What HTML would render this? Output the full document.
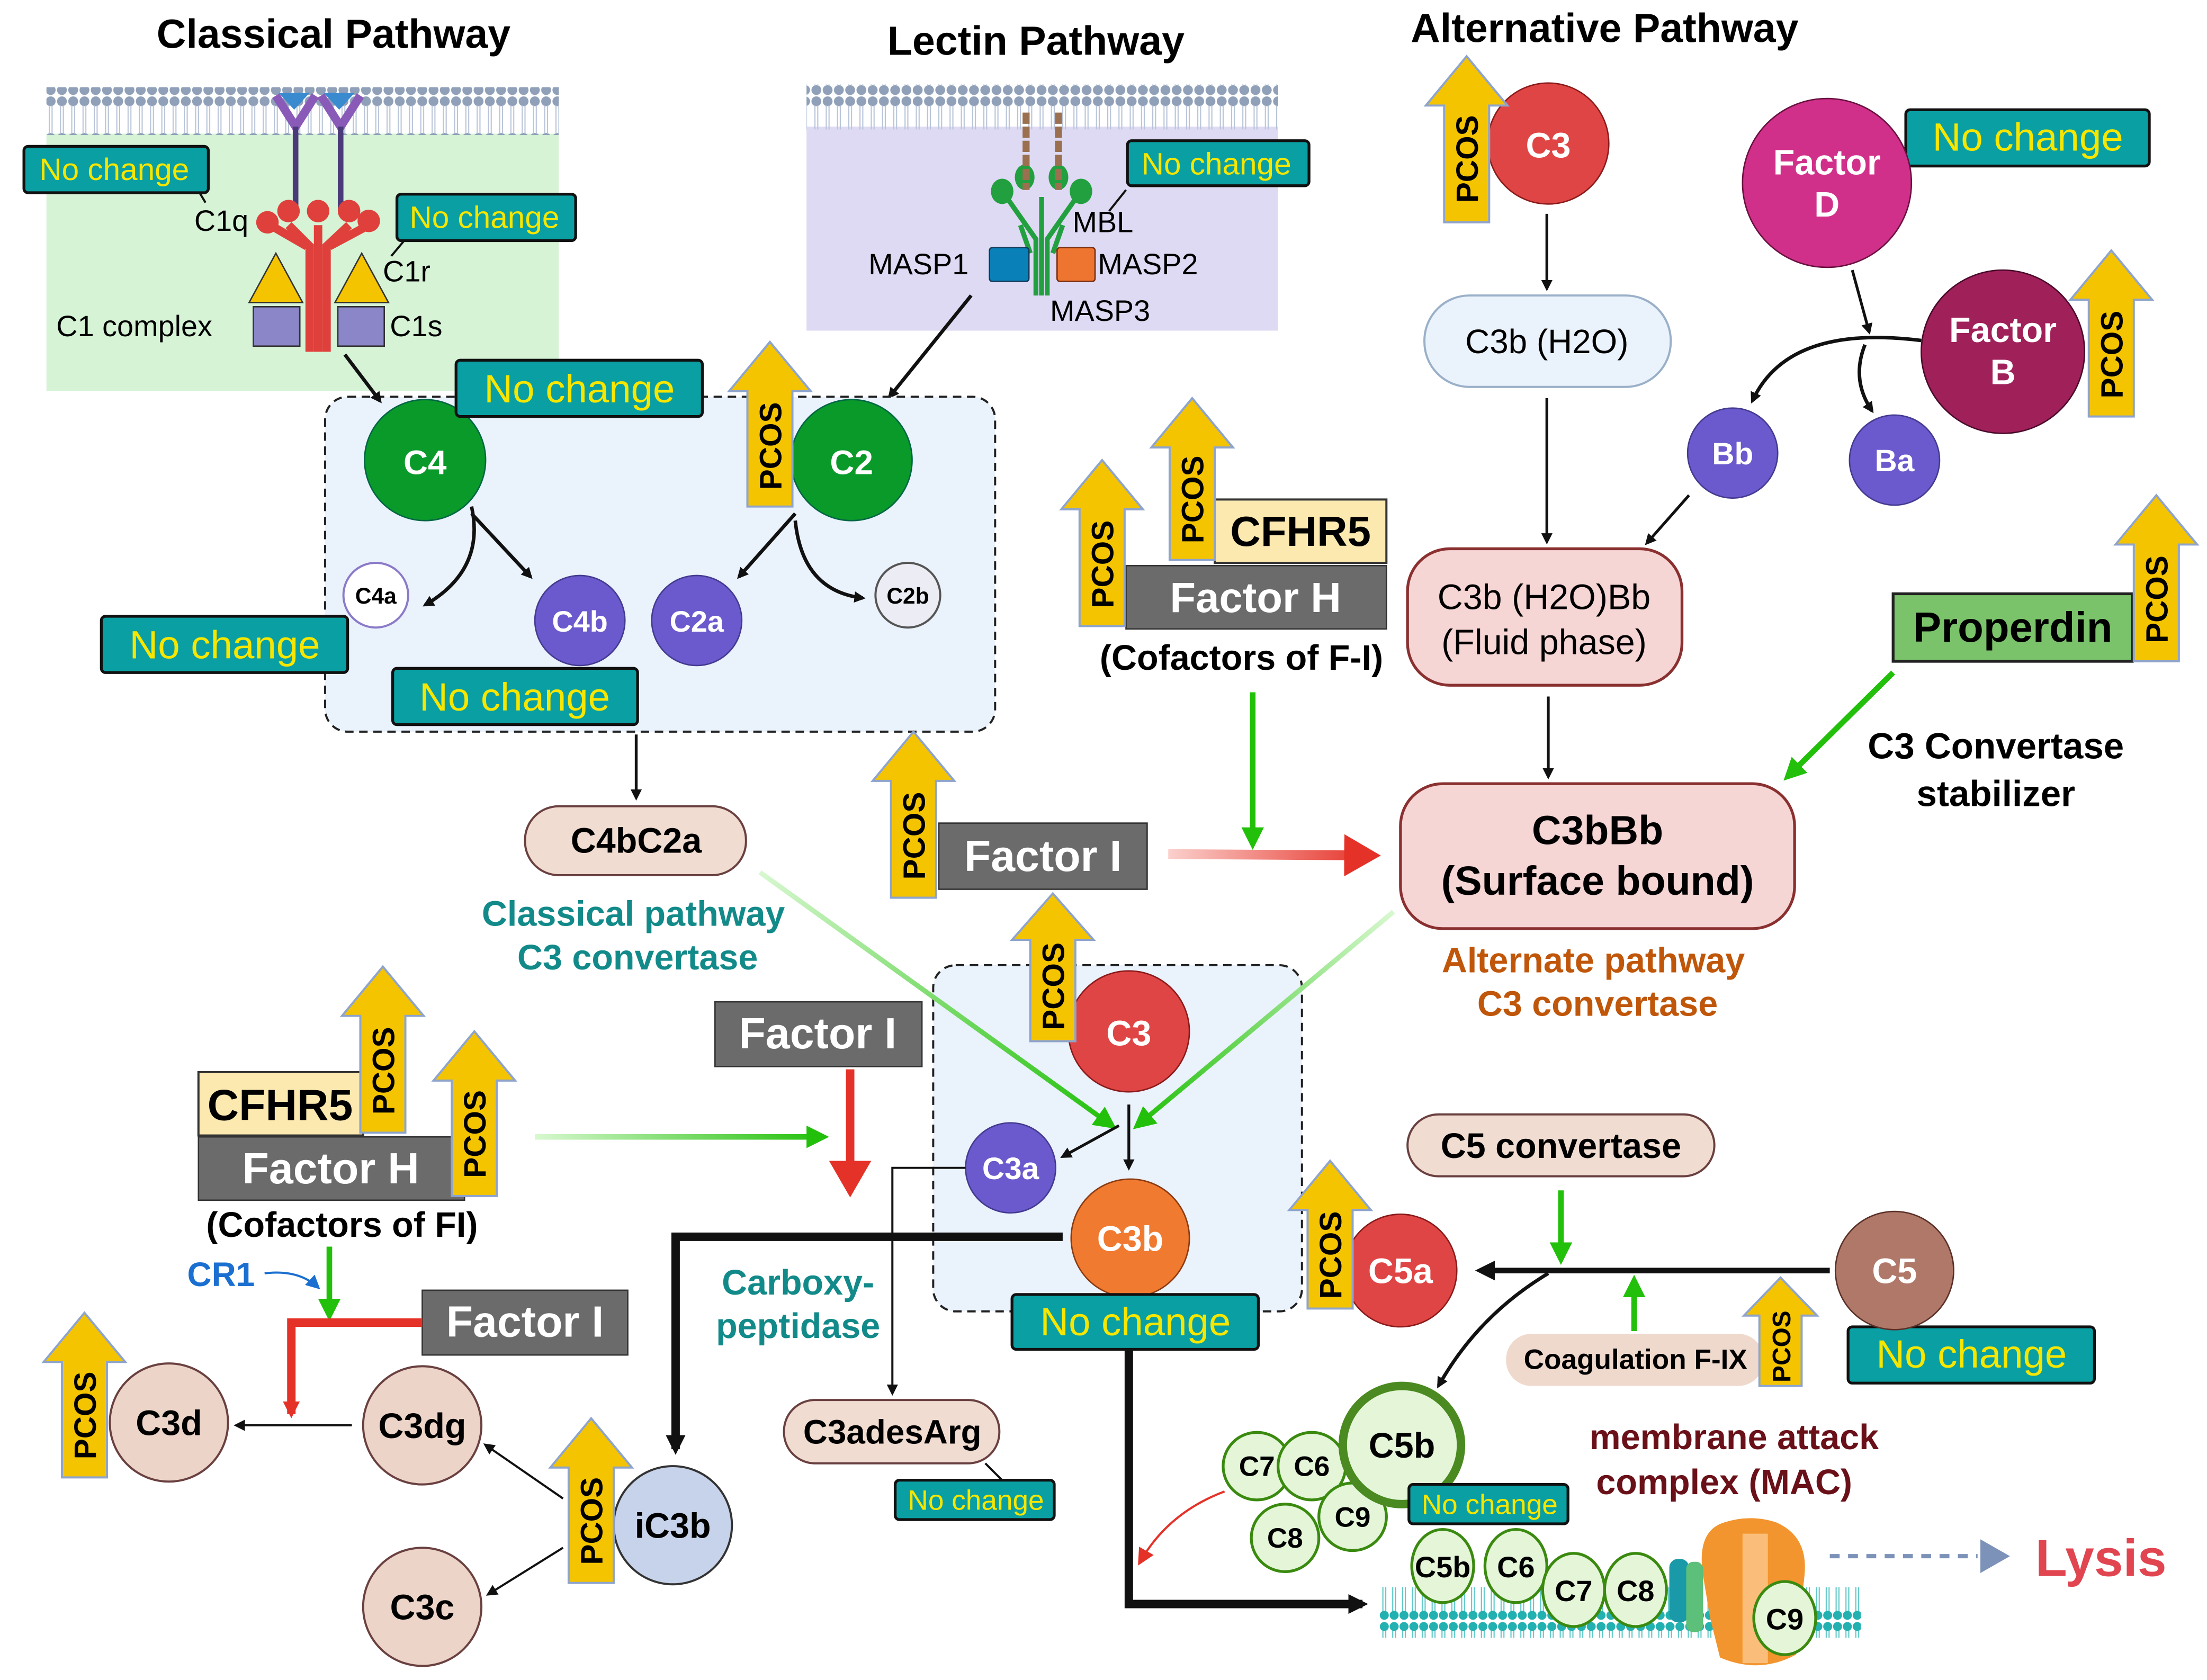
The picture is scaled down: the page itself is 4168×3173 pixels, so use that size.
<!DOCTYPE html>
<html><head><meta charset="utf-8"><style>
html,body{margin:0;padding:0;background:#fff;}
svg{display:block;}
text{font-family:"Liberation Sans",sans-serif;}
.b{font-weight:bold;}
</style></head><body>
<svg width="4168" height="3173" viewBox="0 0 1568 1194" preserveAspectRatio="none" xmlns="http://www.w3.org/2000/svg">
<defs>
<marker id="ab" markerWidth="8" markerHeight="8" refX="6" refY="4" orient="auto" markerUnits="userSpaceOnUse" viewBox="0 0 8 8"><path d="M0,0 L8,4 L0,8 Z" fill="#111"/></marker>
<marker id="abk" markerWidth="14" markerHeight="14" refX="10" refY="7" orient="auto" markerUnits="userSpaceOnUse"><path d="M0,0 L14,7 L0,14 Z" fill="#111"/></marker>
<marker id="ag" markerWidth="16" markerHeight="16" refX="12" refY="8" orient="auto" markerUnits="userSpaceOnUse"><path d="M0,0 L16,8 L0,16 Z" fill="#22c00a"/></marker>
<marker id="ar" markerWidth="26" markerHeight="30" refX="20" refY="15" orient="auto" markerUnits="userSpaceOnUse"><path d="M0,0 L26,15 L0,30 Z" fill="#e53228"/></marker>
<marker id="ar2" markerWidth="12" markerHeight="12" refX="9" refY="6" orient="auto" markerUnits="userSpaceOnUse"><path d="M0,0 L12,6 L0,12 Z" fill="#e53228"/></marker>
<marker id="abl" markerWidth="10" markerHeight="10" refX="8" refY="5" orient="auto" markerUnits="userSpaceOnUse"><path d="M0,0 L10,5 L0,10 Z" fill="#1a6fd0"/></marker>
<linearGradient id="gg1" gradientUnits="userSpaceOnUse" x1="540" y1="620" x2="790" y2="800"><stop offset="0" stop-color="#d8f8d0"/><stop offset="1" stop-color="#22c00a"/></linearGradient>
<linearGradient id="gg2" gradientUnits="userSpaceOnUse" x1="990" y1="648" x2="808" y2="800"><stop offset="0" stop-color="#d8f8d0"/><stop offset="1" stop-color="#22c00a"/></linearGradient>
<linearGradient id="gg3" gradientUnits="userSpaceOnUse" x1="380" y1="0" x2="585" y2="0"><stop offset="0" stop-color="#d8f8d0"/><stop offset="1" stop-color="#22c00a"/></linearGradient>
<linearGradient id="rg" gradientUnits="userSpaceOnUse" x1="830" y1="0" x2="975" y2="0"><stop offset="0" stop-color="#fbd0cc"/><stop offset="1" stop-color="#e53228"/></linearGradient>
<pattern id="mem" width="8" height="34" patternUnits="userSpaceOnUse"><circle cx="4" cy="4" r="3.5" fill="#8fa0b8"/><circle cx="4" cy="30" r="3.5" fill="#8fa0b8"/><line x1="3" y1="7" x2="3" y2="27" stroke="#b8c4d8" stroke-width="0.8"/><line x1="5" y1="7" x2="5" y2="27" stroke="#b8c4d8" stroke-width="0.8"/></pattern>
<pattern id="mem2" width="7" height="36" patternUnits="userSpaceOnUse"><circle cx="3.5" cy="4" r="3.2" fill="#22b0b0"/><circle cx="3.5" cy="32" r="3.2" fill="#22b0b0"/><line x1="2.5" y1="7" x2="2.5" y2="29" stroke="#5cc8c8" stroke-width="0.8"/><line x1="4.5" y1="7" x2="4.5" y2="29" stroke="#5cc8c8" stroke-width="0.8"/></pattern>
</defs>
<rect width="1568" height="1194" fill="#fff"/>

<text x="237" y="34" font-size="29" class="b" text-anchor="middle">Classical Pathway</text>
<text x="736" y="39" font-size="29" class="b" text-anchor="middle">Lectin Pathway</text>
<text x="1140" y="30" font-size="29" class="b" text-anchor="middle">Alternative  Pathway</text>

<!-- Classical panel -->
<rect x="33" y="95" width="364" height="183" fill="#d6f3d6"/>
<rect x="33" y="62" width="364" height="34" fill="url(#mem)"/>
<path d="M196,68 L210,90 L224,68 M228,68 L242,90 L256,68" stroke="#8a5ab8" stroke-width="6" fill="none"/>
<path d="M198,66 h22 l-11,12z M230,66 h22 l-11,12z" fill="#3a8ad0"/>
<line x1="210" y1="90" x2="210" y2="150" stroke="#4a3a7a" stroke-width="4"/>
<line x1="242" y1="90" x2="242" y2="150" stroke="#4a3a7a" stroke-width="4"/>
<g stroke="#e0403c" stroke-width="6" fill="none">
<path d="M220,250 L220,175 L205,160"/><path d="M226,250 L226,160"/><path d="M232,250 L232,175 L248,160"/>
<path d="M218,175 L192,160"/><path d="M234,175 L262,160"/>
</g>
<g fill="#e0403c"><circle cx="190" cy="158" r="8"/><circle cx="205" cy="150" r="8"/><circle cx="226" cy="150" r="8"/><circle cx="248" cy="150" r="8"/><circle cx="262" cy="157" r="8"/></g>
<polygon points="196,180 215,215 177,215" fill="#f5c400" stroke="#333"/>
<polygon points="257,180 276,215 238,215" fill="#f5c400" stroke="#333"/>
<rect x="180" y="218" width="33" height="28" fill="#8a86c8" stroke="#333"/>
<rect x="240" y="218" width="33" height="28" fill="#8a86c8" stroke="#333"/>
<text x="138" y="164" font-size="21">C1q</text>
<text x="272" y="200" font-size="21">C1r</text>
<text x="277" y="239" font-size="21">C1s</text>
<text x="40" y="239" font-size="21">C1 complex</text>
<line x1="140" y1="134" x2="146" y2="144" stroke="#111" stroke-width="1.5"/>
<line x1="288" y1="170" x2="278" y2="182" stroke="#111" stroke-width="1.5"/>

<!-- Lectin panel -->
<rect x="573" y="90" width="335" height="145" fill="#dedaf3"/>
<rect x="573" y="60" width="335" height="32" fill="url(#mem)"/>
<g stroke="#22a040" stroke-width="3.5" fill="none">
<path d="M736,210 L736,170 L715,140"/><path d="M740,210 L740,140"/><path d="M744,210 L744,170 L765,140"/><path d="M732,180 L725,160"/><path d="M748,180 L755,160"/>
</g>
<g fill="#22a040"><ellipse cx="712" cy="136" rx="8" ry="9"/><ellipse cx="728" cy="126" rx="7" ry="9"/><ellipse cx="752" cy="126" rx="7" ry="9"/><ellipse cx="768" cy="136" rx="8" ry="9"/></g>
<line x1="729" y1="80" x2="729" y2="135" stroke="#9a7050" stroke-width="5" stroke-dasharray="8,2"/>
<line x1="752" y1="80" x2="752" y2="135" stroke="#9a7050" stroke-width="5" stroke-dasharray="8,2"/>
<rect x="703" y="176" width="28" height="24" rx="2" fill="#0a80b8" stroke="#143a5a"/>
<rect x="751" y="176" width="27" height="24" rx="2" fill="#ee7530" stroke="#7a3010"/>
<text x="617" y="195" font-size="21">MASP1</text>
<text x="780" y="195" font-size="21">MASP2</text>
<text x="762" y="165" font-size="21">MBL</text>
<text x="746" y="228" font-size="21">MASP3</text>
<line x1="800" y1="135" x2="788" y2="150" stroke="#111" stroke-width="1.5"/>
<line x1="690" y1="210" x2="632" y2="282" stroke="#111" stroke-width="2.5" marker-end="url(#ab)"/>

<!-- Classical dashed box -->
<rect x="231" y="282" width="476" height="238" rx="16" fill="#eaf2fc" stroke="#222" stroke-width="1.5" stroke-dasharray="6,4"/>
<line x1="245" y1="252" x2="270" y2="285" stroke="#111" stroke-width="2.5" marker-end="url(#ab)"/>
<circle cx="302" cy="327" r="43" fill="#0a9a2a" stroke="#064"/>
<text x="302" y="337" font-size="24" class="b" fill="#fff" text-anchor="middle">C4</text>
<circle cx="605" cy="327" r="43" fill="#0a9a2a" stroke="#064"/>
<text x="605" y="337" font-size="24" class="b" fill="#fff" text-anchor="middle">C2</text>
<path d="M335,360 Q345,405 302,430" stroke="#111" stroke-width="2.5" fill="none" marker-end="url(#ab)"/>
<line x1="335" y1="365" x2="377" y2="410" stroke="#111" stroke-width="2.5" marker-end="url(#ab)"/>
<line x1="565" y1="365" x2="525" y2="410" stroke="#111" stroke-width="2.5" marker-end="url(#ab)"/>
<path d="M565,370 Q570,420 613,425" stroke="#111" stroke-width="2.5" fill="none" marker-end="url(#ab)"/>
<circle cx="267" cy="423" r="23" fill="#fff" stroke="#8a7ac8" stroke-width="1.5"/>
<text x="267" y="429" font-size="16" class="b" text-anchor="middle">C4a</text>
<circle cx="412" cy="441" r="32" fill="#6a5acd" stroke="#443a90"/>
<text x="412" y="449" font-size="21" class="b" fill="#fff" text-anchor="middle">C4b</text>
<circle cx="495" cy="441" r="32" fill="#6a5acd" stroke="#443a90"/>
<text x="495" y="449" font-size="21" class="b" fill="#fff" text-anchor="middle">C2a</text>
<circle cx="645" cy="423" r="23" fill="#ecedf4" stroke="#555" stroke-width="1.5"/>
<text x="645" y="429" font-size="16" class="b" text-anchor="middle">C2b</text>

<!-- No change labels -->
<g stroke="#111" stroke-width="2" fill="#0aa0a3">
<rect x="17" y="104" width="131" height="33" rx="3"/>
<rect x="282" y="138" width="127" height="33" rx="3"/>
<rect x="801" y="100" width="129" height="32" rx="3"/>
<rect x="1354" y="78" width="173" height="40" rx="3"/>
<rect x="324" y="256" width="175" height="40" rx="3"/>
<rect x="72" y="438" width="175" height="40" rx="3"/>
<rect x="279" y="475" width="174" height="40" rx="3"/>
<rect x="1313" y="943" width="175" height="40" rx="3"/>
<rect x="636" y="1052" width="113" height="28" rx="3"/>
</g>
<g fill="#f7e600" font-size="22">
<text x="28" y="128">No change</text>
<text x="291" y="162">No change</text>
<text x="811" y="124">No change</text>
<text x="1373" y="107" font-size="28">No change</text>
<text x="344" y="286" font-size="28">No change</text>
<text x="92" y="468" font-size="28">No change</text>
<text x="298" y="505" font-size="28">No change</text>
<text x="1333" y="972" font-size="28">No change</text>
<text x="645" y="1073" font-size="20">No change</text>
</g>

<!-- Alternative pathway -->
<circle cx="1100" cy="102" r="43" fill="#e04545" stroke="#8a1a1a"/>
<text x="1100" y="112" font-size="25" class="b" fill="#fff" text-anchor="middle">C3</text>
<line x1="1099" y1="152" x2="1099" y2="205" stroke="#111" stroke-width="2" marker-end="url(#ab)"/>
<rect x="1012" y="210" width="175" height="65" rx="32" fill="#eaf2fc" stroke="#9ab0c8" stroke-width="1.5"/>
<text x="1099" y="251" font-size="24" text-anchor="middle">C3b (H2O)</text>
<line x1="1099" y1="283" x2="1099" y2="385" stroke="#111" stroke-width="2" marker-end="url(#ab)"/>
<rect x="1000" y="390" width="195" height="97" rx="30" fill="#f6d5d5" stroke="#8a3030" stroke-width="2"/>
<text x="1097" y="433" font-size="25" text-anchor="middle">C3b (H2O)Bb</text>
<text x="1097" y="465" font-size="25" text-anchor="middle">(Fluid phase)</text>
<line x1="1100" y1="495" x2="1100" y2="552" stroke="#111" stroke-width="2" marker-end="url(#ab)"/>
<rect x="995" y="557" width="280" height="103" rx="30" fill="#f6d5d5" stroke="#8a3030" stroke-width="2"/>
<text x="1135" y="600" font-size="29" class="b" text-anchor="middle">C3bBb</text>
<text x="1135" y="636" font-size="29" class="b" text-anchor="middle">(Surface bound)</text>
<text x="1132" y="691" font-size="25" class="b" fill="#c0560a" text-anchor="middle">Alternate pathway</text>
<text x="1135" y="722" font-size="25" class="b" fill="#c0560a" text-anchor="middle">C3 convertase</text>

<circle cx="1298" cy="130" r="60" fill="#d0308a" stroke="#6a1040"/>
<text x="1298" y="124" font-size="25" class="b" fill="#fff" text-anchor="middle">Factor</text>
<text x="1298" y="154" font-size="25" class="b" fill="#fff" text-anchor="middle">D</text>
<line x1="1316" y1="192" x2="1328" y2="236" stroke="#111" stroke-width="2" marker-end="url(#ab)"/>
<circle cx="1423" cy="250" r="58" fill="#a0205a" stroke="#4a0a2a"/>
<text x="1423" y="243" font-size="25" class="b" fill="#fff" text-anchor="middle">Factor</text>
<text x="1423" y="273" font-size="25" class="b" fill="#fff" text-anchor="middle">B</text>
<path d="M1365,242 Q1270,230 1245,285" stroke="#111" stroke-width="2.5" fill="none" marker-end="url(#ab)"/>
<path d="M1325,245 Q1315,270 1330,292" stroke="#111" stroke-width="2.5" fill="none" marker-end="url(#ab)"/>
<circle cx="1231" cy="322" r="32" fill="#6a5acd" stroke="#443a90"/>
<text x="1231" y="330" font-size="22" class="b" fill="#fff" text-anchor="middle">Bb</text>
<circle cx="1346" cy="327" r="32" fill="#6a5acd" stroke="#443a90"/>
<text x="1346" y="335" font-size="22" class="b" fill="#fff" text-anchor="middle">Ba</text>
<line x1="1200" y1="352" x2="1170" y2="386" stroke="#111" stroke-width="2" marker-end="url(#ab)"/>

<rect x="1345" y="422" width="170" height="48" fill="#7ac36a" stroke="#222" stroke-width="2"/>
<text x="1430" y="456" font-size="30" class="b" text-anchor="middle">Properdin</text>
<line x1="1345" y1="478" x2="1270" y2="552" stroke="#22c00a" stroke-width="4" marker-end="url(#ag)"/>
<text x="1418" y="539" font-size="26" class="b" text-anchor="middle">C3 Convertase</text>
<text x="1418" y="573" font-size="26" class="b" text-anchor="middle">stabilizer</text>

<!-- Factor H top -->
<rect x="863" y="355" width="122" height="45" fill="#fbe9b0" stroke="#333" stroke-width="1.5"/>
<text x="924" y="388" font-size="30" class="b" text-anchor="middle">CFHR5</text>
<rect x="800" y="402" width="185" height="45" fill="#6b6b6b" stroke="#333"/>
<text x="892" y="435" font-size="30" class="b" fill="#fff" text-anchor="middle">Factor H</text>
<text x="882" y="476" font-size="25" class="b" text-anchor="middle">(Cofactors of F-I)</text>
<line x1="890" y1="492" x2="890" y2="600" stroke="#22c00a" stroke-width="4" marker-end="url(#ag)"/>

<!-- Factor I mid -->
<rect x="667" y="585" width="148" height="47" fill="#6b6b6b" stroke="#333"/>
<text x="741" y="619" font-size="31" class="b" fill="#fff" text-anchor="middle">Factor I</text>
<line x1="830" y1="607" x2="975" y2="608" stroke="url(#rg)" stroke-width="7" marker-end="url(#ar)"/>

<!-- C4bC2a -->
<line x1="452" y1="522" x2="452" y2="567" stroke="#111" stroke-width="2" marker-end="url(#ab)"/>
<rect x="373" y="573" width="157" height="49" rx="24" fill="#f0dcd0" stroke="#6a4040" stroke-width="1.5"/>
<text x="452" y="606" font-size="25" class="b" text-anchor="middle">C4bC2a</text>
<text x="450" y="658" font-size="25" class="b" fill="#138a8a" text-anchor="middle">Classical pathway</text>
<text x="453" y="689" font-size="25" class="b" fill="#138a8a" text-anchor="middle">C3 convertase</text>

<!-- Central dashed box -->
<rect x="663" y="686" width="262" height="246" rx="16" fill="#eaf2fc" stroke="#222" stroke-width="1.5" stroke-dasharray="6,4"/>
<line x1="540" y1="620" x2="790" y2="800" stroke="url(#gg1)" stroke-width="3.5" marker-end="url(#ag)"/>
<line x1="990" y1="648" x2="808" y2="800" stroke="url(#gg2)" stroke-width="3.5" marker-end="url(#ag)"/>
<circle cx="802" cy="733" r="43" fill="#e04545" stroke="#8a1a1a"/>
<text x="802" y="743" font-size="25" class="b" fill="#fff" text-anchor="middle">C3</text>
<line x1="802" y1="785" x2="802" y2="830" stroke="#111" stroke-width="2" marker-end="url(#ab)"/>
<line x1="795" y1="800" x2="755" y2="822" stroke="#111" stroke-width="2" marker-end="url(#ab)"/>
<circle cx="718" cy="830" r="32" fill="#6a5acd" stroke="#443a90"/>
<text x="718" y="838" font-size="22" class="b" fill="#fff" text-anchor="middle">C3a</text>
<circle cx="803" cy="880" r="42" fill="#f07a30" stroke="#8a3a10"/>
<text x="803" y="889" font-size="25" class="b" fill="#fff" text-anchor="middle">C3b</text>
<polyline points="686,830 634,830 634,990" stroke="#111" stroke-width="1.5" fill="none" marker-end="url(#ab)"/>
<rect x="719" y="920" width="175" height="39" rx="3" fill="#0aa0a3" stroke="#111" stroke-width="2"/>
<text x="739" y="949" font-size="28" fill="#f7e600">No change</text>

<!-- Factor I center-left -->
<rect x="508" y="712" width="147" height="46" fill="#6b6b6b" stroke="#333"/>
<text x="581" y="745" font-size="31" class="b" fill="#fff" text-anchor="middle">Factor I</text>
<line x1="604" y1="760" x2="604" y2="845" stroke="#e53228" stroke-width="6" marker-end="url(#ar)"/>
<line x1="380" y1="808" x2="585" y2="808" stroke="url(#gg3)" stroke-width="4" marker-end="url(#ag)"/>
<text x="567" y="920" font-size="25" class="b" fill="#138a8a" text-anchor="middle">Carboxy-</text>
<text x="567" y="951" font-size="25" class="b" fill="#138a8a" text-anchor="middle">peptidase</text>

<polyline points="755,879 480,879 480,1030" stroke="#111" stroke-width="6" fill="none" marker-end="url(#abk)"/>
<polyline points="802,960 802,1140 968,1140" stroke="#111" stroke-width="6" fill="none" marker-end="url(#abk)"/>

<rect x="557" y="995" width="153" height="45" rx="22" fill="#f0dcd0" stroke="#6a4040" stroke-width="1.5"/>
<text x="634" y="1026" font-size="24" class="b" text-anchor="middle">C3adesArg</text>
<line x1="700" y1="1040" x2="712" y2="1052" stroke="#111" stroke-width="1.5"/>

<!-- Left FH -->
<rect x="141" y="762" width="117" height="45" fill="#fbe9b0" stroke="#333" stroke-width="1.5"/>
<text x="199" y="796" font-size="31" class="b" text-anchor="middle">CFHR5</text>
<rect x="141" y="808" width="189" height="45" fill="#6b6b6b" stroke="#333"/>
<text x="235" y="841" font-size="31" class="b" fill="#fff" text-anchor="middle">Factor H</text>
<text x="243" y="879" font-size="25" class="b" text-anchor="middle">(Cofactors of FI)</text>
<line x1="234" y1="886" x2="234" y2="935" stroke="#22c00a" stroke-width="4" marker-end="url(#ag)"/>
<text x="133" y="914" font-size="24" class="b" fill="#1a6fd0">CR1</text>
<path d="M188,905 Q212,902 226,915" stroke="#1a6fd0" stroke-width="1.5" fill="none" marker-end="url(#abl)"/>
<rect x="300" y="917" width="146" height="46" fill="#6b6b6b" stroke="#333"/>
<text x="373" y="950" font-size="31" class="b" fill="#fff" text-anchor="middle">Factor I</text>
<polyline points="300,940 207,940 207,1005" stroke="#e53228" stroke-width="6" fill="none" marker-end="url(#ar2)"/>

<circle cx="120" cy="1011" r="42" fill="#ecd5c8" stroke="#6a4040" stroke-width="1.5"/>
<text x="120" y="1020" font-size="25" class="b" text-anchor="middle">C3d</text>
<line x1="250" y1="1013" x2="168" y2="1013" stroke="#111" stroke-width="1.5" marker-end="url(#ab)"/>
<circle cx="300" cy="1013" r="42" fill="#ecd5c8" stroke="#6a4040" stroke-width="1.5"/>
<text x="300" y="1022" font-size="25" class="b" text-anchor="middle">C3dg</text>
<circle cx="300" cy="1142" r="42" fill="#ecd5c8" stroke="#6a4040" stroke-width="1.5"/>
<text x="300" y="1151" font-size="25" class="b" text-anchor="middle">C3c</text>
<circle cx="478" cy="1084" r="42" fill="#c7d3ea" stroke="#333" stroke-width="1.5"/>
<text x="478" y="1093" font-size="25" class="b" text-anchor="middle">iC3b</text>
<line x1="400" y1="1065" x2="345" y2="1027" stroke="#111" stroke-width="1.5" marker-end="url(#ab)"/>
<line x1="400" y1="1100" x2="347" y2="1133" stroke="#111" stroke-width="1.5" marker-end="url(#ab)"/>

<!-- C5 section -->
<rect x="1000" y="792" width="218" height="44" rx="22" fill="#f0dcd0" stroke="#6a4040" stroke-width="1.5"/>
<text x="1109" y="823" font-size="25" class="b" text-anchor="middle">C5 convertase</text>
<line x1="1109" y1="846" x2="1109" y2="895" stroke="#22c00a" stroke-width="4" marker-end="url(#ag)"/>
<line x1="1300" y1="903" x2="1052" y2="903" stroke="#111" stroke-width="4" marker-end="url(#abk)"/>
<line x1="1161" y1="946" x2="1161" y2="910" stroke="#22c00a" stroke-width="4" marker-end="url(#ag)"/>
<path d="M1100,905 Q1050,935 1022,985" stroke="#111" stroke-width="2.5" fill="none" marker-end="url(#ab)"/>
<circle cx="995" cy="903" r="40" fill="#e04545" stroke="#8a1a1a"/>
<text x="995" y="912" font-size="25" class="b" fill="#fff" text-anchor="middle">C5a</text>
<circle cx="1346" cy="903" r="42" fill="#b07868" stroke="#5a3028"/>
<text x="1346" y="912" font-size="25" class="b" fill="#fff" text-anchor="middle">C5</text>
<rect x="1070" y="948" width="183" height="37" rx="18" fill="#efd9cc"/>
<text x="1162" y="973" font-size="20" class="b" text-anchor="middle">Coagulation F-IX</text>

<text x="1232" y="1030" font-size="25" class="b" fill="#6a1018" text-anchor="middle">membrane attack</text>
<text x="1225" y="1062" font-size="25" class="b" fill="#6a1018" text-anchor="middle">complex (MAC)</text>

<path d="M870,1060 Q830,1075 810,1110" stroke="#e53228" stroke-width="1.5" fill="none" marker-end="url(#ar2)"/>
<g fill="#e4f5d8" stroke="#3a8a10" stroke-width="2">
<circle cx="893" cy="1042" r="24"/><circle cx="932" cy="1042" r="24"/><circle cx="913" cy="1093" r="24"/><circle cx="961" cy="1078" r="24"/>
</g>
<circle cx="996" cy="1027" r="42" fill="#e4f5d8" stroke="#4a8a20" stroke-width="6"/>
<g font-size="20" class="b" text-anchor="middle">
<text x="893" y="1049">C7</text><text x="932" y="1049">C6</text><text x="913" y="1100">C8</text><text x="961" y="1085">C9</text>
</g>
<text x="996" y="1036" font-size="25" class="b" text-anchor="middle">C5b</text>
<rect x="1001" y="1055" width="113" height="28" rx="3" fill="#0aa0a3" stroke="#111" stroke-width="2"/>
<text x="1010" y="1076" font-size="20" fill="#f7e600">No change</text>

<!-- membrane bottom -->
<rect x="980" y="1128" width="342" height="36" fill="url(#mem2)"/>
<path d="M1210,1120 Q1205,1088 1225,1082 Q1244,1076 1262,1082 Q1285,1092 1282,1120 L1276,1176 Q1250,1190 1222,1178 L1215,1150 Z" fill="#f2952e"/>
<rect x="1238" y="1090" width="18" height="92" fill="#fbbe7a"/>
<rect x="1186" y="1108" width="14" height="45" rx="6" fill="#1a9aa8"/>
<rect x="1198" y="1110" width="12" height="50" rx="5" fill="#5cbf7a"/>
<g fill="#e4f5d8" stroke="#3a8a10" stroke-width="2">
<ellipse cx="1025" cy="1113" rx="22" ry="26"/><ellipse cx="1077" cy="1113" rx="22" ry="26"/><ellipse cx="1118" cy="1130" rx="22" ry="26"/><ellipse cx="1162" cy="1130" rx="22" ry="26"/><ellipse cx="1268" cy="1150" rx="22" ry="26"/>
</g>
<g font-size="21" class="b" text-anchor="middle">
<text x="1025" y="1121">C5b</text><text x="1077" y="1121">C6</text><text x="1118" y="1138">C7</text><text x="1162" y="1138">C8</text><text x="1268" y="1158">C9</text>
</g>
<line x1="1300" y1="1106" x2="1405" y2="1106" stroke="#7d92b8" stroke-width="3" stroke-dasharray="7,6"/>
<polygon points="1407,1094 1428,1106 1407,1118" fill="#7d92b8"/>
<text x="1446" y="1120" font-size="37" class="b" fill="#e04550">Lysis</text>

<!-- PCOS arrows -->
<g fill="#f5c400" stroke="#8ea4cc" stroke-width="1.5">
<polygon points="1042,40 1071,75 1058,75 1058,158 1026,158 1026,75 1013,75"/>
<polygon points="1500,178 1529,213 1516,213 1516,296 1484,296 1484,213 1471,213"/>
<polygon points="1532,352 1561,387 1548,387 1548,470 1516,470 1516,387 1503,387"/>
<polygon points="547,243 576,278 563,278 563,360 531,360 531,278 518,278"/>
<polygon points="847,283 876,318 863,318 863,398 831,398 831,318 818,318"/>
<polygon points="783,327 812,362 799,362 799,445 767,445 767,362 754,362"/>
<polygon points="649,520 678,555 665,555 665,638 633,638 633,555 620,555"/>
<polygon points="748,635 777,668 764,668 764,740 732,740 732,668 719,668"/>
<polygon points="272,687 301,722 288,722 288,805 256,805 256,722 243,722"/>
<polygon points="337,733 366,768 353,768 353,850 321,850 321,768 308,768"/>
<polygon points="60,933 89,968 76,968 76,1050 44,1050 44,968 31,968"/>
<polygon points="420,1008 449,1043 436,1043 436,1125 404,1125 404,1043 391,1043"/>
<polygon points="945,825 974,860 961,860 961,930 929,930 929,860 916,860"/>
<polygon points="1265,908 1291,935 1280,935 1280,985 1250,985 1250,935 1239,935"/>
</g>
<g font-size="22" class="b" text-anchor="middle">
<text transform="translate(1050,113) rotate(-90)">PCOS</text>
<text transform="translate(1508,252) rotate(-90)">PCOS</text>
<text transform="translate(1540,426) rotate(-90)">PCOS</text>
<text transform="translate(555,317) rotate(-90)">PCOS</text>
<text transform="translate(855,355) rotate(-90)">PCOS</text>
<text transform="translate(791,401) rotate(-90)">PCOS</text>
<text transform="translate(657,594) rotate(-90)">PCOS</text>
<text transform="translate(756,701) rotate(-90)">PCOS</text>
<text transform="translate(280,761) rotate(-90)">PCOS</text>
<text transform="translate(345,806) rotate(-90)">PCOS</text>
<text transform="translate(68,1006) rotate(-90)">PCOS</text>
<text transform="translate(428,1081) rotate(-90)">PCOS</text>
<text transform="translate(953,892) rotate(-90)">PCOS</text>
<text transform="translate(1272,957) rotate(-90)" font-size="18">PCOS</text>
</g>
</svg>
</body></html>
